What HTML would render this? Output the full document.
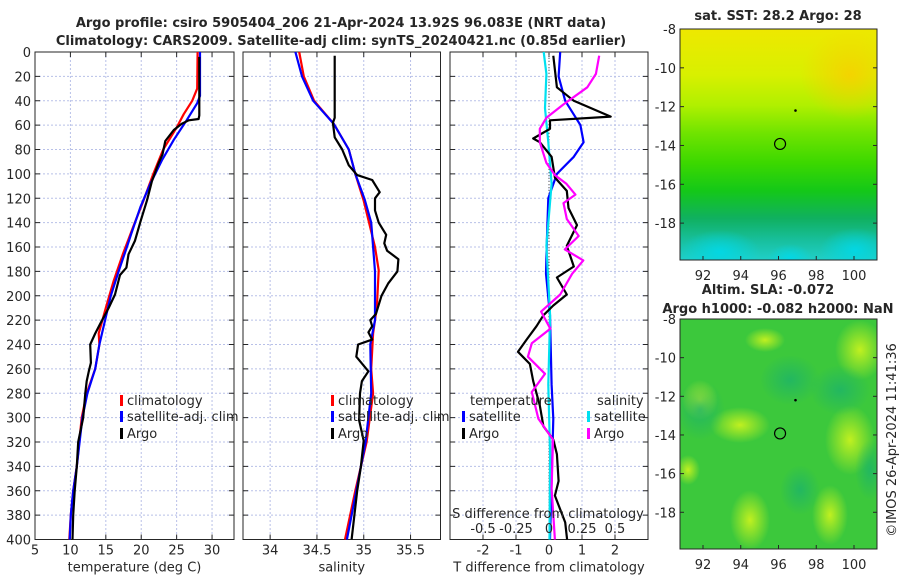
<!DOCTYPE html>
<html><head><meta charset="utf-8"><style>
html,body{margin:0;padding:0;background:#fff;}
svg{display:block;font-family:"DejaVu Sans","Liberation Sans",sans-serif;}
</style></head><body>
<svg id="fig" width="900" height="580" viewBox="0 0 900 580" xmlns="http://www.w3.org/2000/svg">
<defs>
<linearGradient id="sstg" x1="0" y1="0" x2="0" y2="1">
<stop offset="0" stop-color="#eee800"/><stop offset="0.2" stop-color="#d8f000"/>
<stop offset="0.33" stop-color="#b0f000"/><stop offset="0.45" stop-color="#70e400"/>
<stop offset="0.58" stop-color="#3cd800"/><stop offset="0.7" stop-color="#14c818"/>
<stop offset="0.82" stop-color="#10b060"/><stop offset="0.92" stop-color="#18c0a0"/><stop offset="1" stop-color="#20d0c8"/>
</linearGradient>
<radialGradient id="orng"><stop offset="0" stop-color="#ffc800" stop-opacity="0.7"/><stop offset="1" stop-color="#ffc800" stop-opacity="0"/></radialGradient>
<radialGradient id="cyn"><stop offset="0" stop-color="#00d8e8" stop-opacity="0.9"/><stop offset="1" stop-color="#00d8e8" stop-opacity="0"/></radialGradient>
<radialGradient id="lgt"><stop offset="0" stop-color="#c0f020" stop-opacity="1"/><stop offset="1" stop-color="#c0f020" stop-opacity="0"/></radialGradient>
<radialGradient id="drk"><stop offset="0" stop-color="#18b070" stop-opacity="1"/><stop offset="1" stop-color="#18b070" stop-opacity="0"/></radialGradient>
<clipPath id="c1"><rect x="680" y="29" width="197" height="231"/></clipPath>
<clipPath id="c2"><rect x="680" y="319" width="197" height="230"/></clipPath>
</defs>
<g id="root"></g>
</svg>
<script>
// ---- data ----
var tClimDepth=[0,30,40,51,62,80,100,122,143,166,188,210,231,240,260,280,300,340,360,380,400];
var tClimVal=[27.96,27.9,27.2,26.0,25.0,23.1,21.7,20.3,18.9,17.4,16.1,15.0,14.0,14.1,13.5,12.3,11.6,10.9,10.4,10.05,9.85];
var tSatDepth=[0,36,42,56,72,89,108,127,149,160,180,200,220,240,260,280,300,340,360,380,400];
var tSatVal=[28.3,28.3,27.9,26.4,24.6,22.9,21.3,19.9,18.6,17.97,16.8,15.7,14.9,14.1,13.5,12.4,11.7,10.9,10.4,10.05,9.9];
var tArgoDepth=[4,52,55,56,59,64,73,84,92,106,122,139,155,166,177,183,199,210,223,231,240,255,262,270,280,300,320,340,360,380,400];
var tArgoVal=[28.2,28.2,28.1,26.7,25.7,24.6,23.4,23.0,22.4,21.5,20.8,19.9,19.1,18.2,17.9,17.0,16.3,15.4,14.2,13.5,12.8,12.9,12.6,12.3,12.1,11.8,11.1,10.9,10.6,10.4,10.3];
var sClimDepth=[0,20,40,59,80,100,122,160,179,209,231,260,280,320,360,400];
var sClimVal=[34.31,34.36,34.47,34.68,34.84,34.91,35.0,35.12,35.16,35.14,35.1,35.08,35.1,35.03,34.91,34.8];
var sSatDepth=[0,20,40,59,80,100,121,140,180,220,240,280,320,360,400];
var sSatVal=[34.27,34.34,34.46,34.68,34.84,34.91,35.01,35.08,35.12,35.12,35.07,35.08,35.02,34.92,34.82];
var sArgoDepth=[3,54,58,70,80,93,101,105,115,120,130,140,150,157,163,170,180,190,200,215,220,225,230,236,240,250,262,270,280,302,319,340,360,380,400];
var sArgoVal=[34.69,34.69,34.67,34.69,34.77,34.84,34.93,35.09,35.17,35.12,35.12,35.16,35.24,35.22,35.25,35.37,35.36,35.26,35.19,35.13,35.07,35.09,35.05,35.09,34.94,34.92,35.05,34.98,34.96,34.95,35.0,34.97,34.93,34.9,34.87];
var dTSatDepth=[0,20,40,60,74,86,100,120,159,182,216,273,301,400];
var dTSatVal=[0.34,0.29,0.49,0.95,1.05,0.75,0.24,-0.02,-0.07,-0.09,0.03,0.08,0.13,0.03];
var dTArgoDepth=[3,29,40,53,56,63,71,74,86,103,114,128,142,159,176,185,199,208,216,225,236,246,256,270,290,307,318,330,352,364,386,400];
var dTArgoVal=[0.13,0.24,0.75,1.87,0.03,0.03,-0.48,-0.28,0.08,0.18,0.54,0.59,0.85,0.54,0.75,0.24,0.54,0.13,-0.17,-0.38,-0.68,-0.94,-0.58,-0.48,-0.28,-0.17,0.13,0.24,0.29,0.18,0.49,0.55];
var dSSatDepth=[0,18,46,74,108,159,216,273,330,400];
var dSSatVal=[-0.04,-0.02,-0.03,-0.005,0.02,-0.02,0.008,-0.005,0.008,0.004];
var dSArgoDepth=[3,18,29,43,54,63,74,91,101,108,117,124,137,151,162,171,182,199,213,227,239,250,264,279,301,318,358,400];
var dSArgoVal=[0.38,0.355,0.29,0.11,-0.02,-0.07,-0.07,-0.02,0.045,0.13,0.2,0.11,0.135,0.225,0.12,0.26,0.175,0.085,-0.06,0.01,-0.13,-0.16,-0.03,-0.13,-0.08,0.03,0.02,0.045];
var depthTicks=[0,20,40,60,80,100,120,140,160,180,200,220,240,260,280,300,320,340,360,380,400];
var tTicks=[5,10,15,20,25,30];
var sTicks=[34,34.5,35,35.5];
var dTTicks=[-2,-1,0,1,2];
var dSTicks=[-0.5,-0.25,0,0.25,0.5];
var latTicks=[-8,-10,-12,-14,-16,-18];
var lonTicks=[92,94,96,98,100];

var NS='http://www.w3.org/2000/svg';
var root=document.getElementById('root');
function mk(tag,attrs,parent,txt){var e=document.createElementNS(NS,tag);for(var k in attrs)e.setAttribute(k,attrs[k]);if(txt!==undefined)e.textContent=txt;(parent||root).appendChild(e);return e;}
var Y0=52,Y1=539.5;
function yD(d){return Y0+(Y1-Y0)*d/400;}
function lin(a,b,p,q){return function(v){return p+(v-a)*(q-p)/(b-a);};}
var panels=[
 {x0:35,x1:234,xs:lin(5,33.1,35,234),ticks:tTicks,name:'temperature-panel',label:'temperature (deg C)'},
 {x0:243,x1:440.5,xs:lin(33.71,35.82,243,440.5),ticks:sTicks,name:'salinity-panel',label:'salinity'},
 {x0:450,x1:648,xs:lin(-3,3,450,648),ticks:dTTicks,name:'difference-panel',label:'T difference from climatology'}
];
function txt(x,y,s,opt,name){opt=opt||{};var t=mk('text',{x:x,y:y,'font-size':opt.size||13,'text-anchor':opt.anchor||'middle',fill:opt.fill||'#262626','font-weight':opt.bold?'bold':'normal'},null,s);


if(opt.rot)t.setAttribute('transform',opt.rot);return t;}
panels.forEach(function(p,pi){
 var g=mk('g',{});
 
 
 depthTicks.forEach(function(d){
  var yy=yD(d);
  if(d>0&&d<400){var l=mk('line',{x1:p.x0,x2:p.x1,y1:yy,y2:yy,stroke:'#b8c0e8','stroke-width':1,'stroke-dasharray':'2,2'},g);
  
  }
  mk('line',{x1:p.x0,x2:p.x0+5,y1:yy,y2:yy,stroke:'#262626'},g);
  mk('line',{x1:p.x1-5,x2:p.x1,y1:yy,y2:yy,stroke:'#262626'},g);
  if(pi==0)txt(p.x0-4,yy+5,String(d),{anchor:'end'},'depth-tick-label');
 });
 p.ticks.forEach(function(t){
  var xx=p.xs(t);
  if(xx>p.x0+1&&xx<p.x1-1){var l=mk('line',{x1:xx,x2:xx,y1:Y0,y2:Y1,stroke:'#b8c0e8','stroke-width':1,'stroke-dasharray':'2,2'},g);
  
  }
  mk('line',{x1:xx,x2:xx,y1:Y1,y2:Y1-5,stroke:'#262626'},g);
  mk('line',{x1:xx,x2:xx,y1:Y0,y2:Y0+5,stroke:'#262626'},g);
  txt(xx,Y1+15,String(t),{},'x-tick-label');
 });
 var fr=mk('rect',{x:p.x0,y:Y0,width:p.x1-p.x0,height:Y1-Y0,fill:'none',stroke:'#262626','stroke-width':1},g);
 
 
 txt((p.x0+p.x1)/2,Y1+32,p.label,{},'x-axis-title');
});
function line(depths,vals,xs,color,name,w){
 var pts=depths.map(function(d,i){return xs(vals[i]).toFixed(1)+','+yD(d).toFixed(1);}).join(' ');
 var e=mk('polyline',{points:pts,fill:'none',stroke:color,'stroke-width':w||2.2,'stroke-linejoin':'round'});
 
 
}
var xT=panels[0].xs,xS=panels[1].xs,xDT=panels[2].xs,xDS=lin(-0.75,0.75,450,648);
var z=mk('line',{x1:xDT(0),x2:xDT(0),y1:Y0,y2:Y1,stroke:'#555','stroke-dasharray':'1,2'});


line(tClimDepth,tClimVal,xT,'#ff0000','temperature-climatology-line');
line(tSatDepth,tSatVal,xT,'#0000ff','temperature-satellite-line');
line(tArgoDepth,tArgoVal,xT,'#000000','temperature-argo-line');
line(sClimDepth,sClimVal,xS,'#ff0000','salinity-climatology-line');
line(sSatDepth,sSatVal,xS,'#0000ff','salinity-satellite-line');
line(sArgoDepth,sArgoVal,xS,'#000000','salinity-argo-line');
line(dTSatDepth,dTSatVal,xDT,'#0000ff','t-diff-satellite-line');
line(dSSatDepth,dSSatVal,xDS,'#00e0f0','s-diff-satellite-line');
line(dTArgoDepth,dTArgoVal,xDT,'#000000','t-diff-argo-line');
line(dSArgoDepth,dSArgoVal,xDS,'#ff00ff','s-diff-argo-line');
txt(548,518,'S difference from climatology',{},'s-axis-title');
dSTicks.forEach(function(t){txt(xDS(t),533,String(t),{},'s-tick-label');});
function leg(x,y,color,label,name){
 var r=mk('rect',{x:x,y:y-10,width:3,height:11,fill:color});
 
 
 txt(x+7,y,label,{anchor:'start'},name+'-label');
}
[[120,'t'],[331,'s']].forEach(function(a){
 leg(a[0],405,'#ff0000','climatology','legend-climatology');
 leg(a[0],421,'#0000ff','satellite-adj. clim','legend-satellite-adj');
 leg(a[0],438,'#000000','Argo','legend-argo');
});
txt(470,405,'temperature',{anchor:'start'},'legend-temperature-header');
txt(597,405,'salinity',{anchor:'start'},'legend-salinity-header');
leg(462,421,'#0000ff','satellite','legend-t-satellite');
leg(462,438,'#000000','Argo','legend-t-argo');
leg(587,421,'#00e0f0','satellite','legend-s-satellite');
leg(587,438,'#ff00ff','Argo','legend-s-argo');
txt(341,27,'Argo profile: csiro 5905404_206 21-Apr-2024 13.92S 96.083E (NRT data)',{bold:1},'title-line-1');
txt(341,45,'Climatology: CARS2009. Satellite-adj clim: synTS_20240421.nc (0.85d earlier)',{bold:1},'title-line-2');
function map(y0,y1,clip,name,fill){
 var g=mk('g',{'clip-path':'url(#'+clip+')'});
 
 
 fill(g);
 var lat=lin(-8,-18,y0,y0+(y1-y0)*10/11.9),lon=lin(92,100,703,854);
 latTicks.forEach(function(l){var yy=lat(l);mk('line',{x1:680,x2:684,y1:yy,y2:yy,stroke:'#262626'});mk('line',{x1:873,x2:877,y1:yy,y2:yy,stroke:'#262626'});txt(676,yy+5,String(l),{anchor:'end'},'lat-tick-label');});
 lonTicks.forEach(function(l){var xx=lon(l);mk('line',{x1:xx,x2:xx,y1:y1,y2:y1-4,stroke:'#262626'});txt(xx,y1+20,String(l),{},'lon-tick-label');});
 var f=mk('rect',{x:680,y:y0,width:197,height:y1-y0,fill:'none',stroke:'#262626'});
 
 
 var c=mk('circle',{cx:lon(96.083),cy:lat(-13.92),r:5.5,fill:'none',stroke:'#000','stroke-width':1.2});
 
 
 var d=mk('circle',{cx:lon(96.9),cy:lat(-12.2),r:1.3,fill:'#000'});
 
 
}
map(29,260,'c1','sst-map',function(g){
 mk('rect',{x:680,y:29,width:197,height:231,fill:'url(#sstg)'},g);
 mk('ellipse',{cx:850,cy:75,rx:50,ry:45,fill:'url(#orng)'},g);
 mk('ellipse',{cx:720,cy:252,rx:40,ry:22,fill:'url(#cyn)'},g);
 mk('ellipse',{cx:855,cy:250,rx:35,ry:22,fill:'url(#cyn)'},g);
 mk('ellipse',{cx:790,cy:258,rx:22,ry:14,fill:'url(#cyn)'},g);
});
map(319,549,'c2','sla-map',function(g){
 mk('rect',{x:680,y:319,width:197,height:230,fill:'#3cc83c'},g);
 [[700,400,18,20],[860,350,25,30],[850,440,25,35],[830,515,18,30],[750,520,20,30],[740,425,30,18],[688,470,12,15],[765,340,20,12]].forEach(function(b){mk('ellipse',{cx:b[0],cy:b[1],rx:b[2],ry:b[3],fill:'url(#lgt)'},g);});
 [[700,410,25,30],[790,380,30,25],[840,390,30,25],[800,490,20,25],[870,470,15,30]].forEach(function(b){mk('ellipse',{cx:b[0],cy:b[1],rx:b[2],ry:b[3],fill:'url(#drk)','fill-opacity':0.7},g);});
});
txt(778,20,'sat. SST: 28.2 Argo: 28',{bold:1},'sst-map-title');
txt(768,294,'Altim. SLA: -0.072',{bold:1},'sla-map-title');
txt(778,313,'Argo h1000: -0.082 h2000: NaN',{bold:1},'sla-map-subtitle');
txt(896,440,'\u00a9IMOS 26-Apr-2024 11:41:36',{rot:'rotate(-90 896 440)'},'timestamp-label');
</script>
</body></html>
